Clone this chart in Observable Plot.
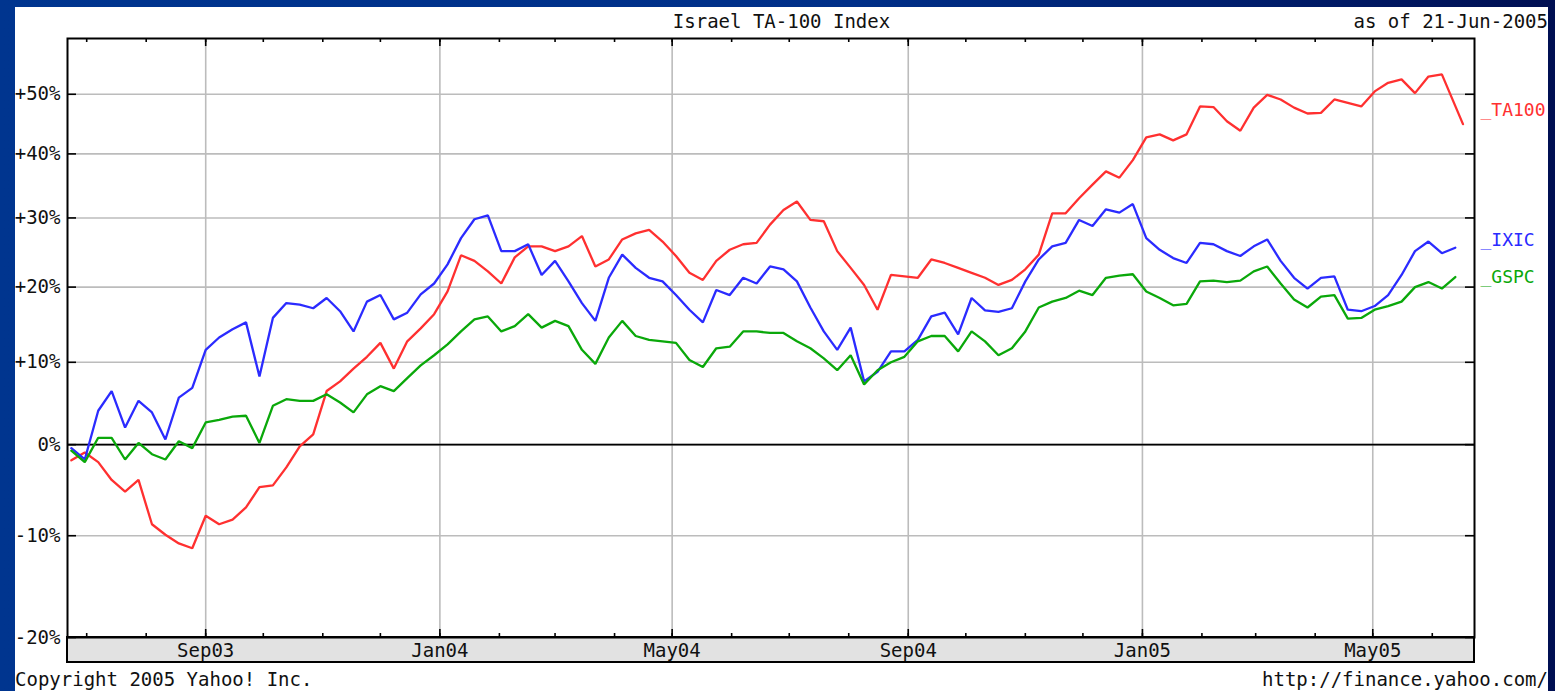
<!DOCTYPE html>
<html>
<head>
<meta charset="utf-8">
<script src="https://cdn.jsdelivr.net/npm/d3@7"></script>
<script src="https://cdn.jsdelivr.net/npm/@observablehq/plot@0.6"></script>
<style>
  html, body { margin: 0; padding: 0; }
  body {
    width: 1555px; height: 691px; overflow: hidden; position: relative;
    background: linear-gradient(90deg, #00358f 0%, #002f88 55%, #001a66 85%, #000f52 100%);
    font-family: "DejaVu Sans Mono", monospace;
  }
  #panel { position: absolute; left: 15px; top: 7px; width: 1533px; height: 684px; background: #fff; }
  #chart { position: absolute; left: 0; top: 0; }
  .txt { position: absolute; font-size: 19px; line-height: 19px; color: #111; white-space: pre; }
</style>
</head>
<body>
<div id="panel">
  <div id="chart"></div>
  <div class="txt" id="title" style="top:5px; left:0; width:1533px; text-align:center;"></div>
  <div class="txt" id="asof" style="top:5px; right:0; text-align:right;"></div>
  <div class="txt" id="copy" style="top:663px; left:0;"></div>
  <div class="txt" id="url" style="top:663px; right:0; text-align:right;"></div>
</div>
<script>
// ---- texts ----
const titleText = "Israel TA-100 Index";
const asOfText = "as of 21-Jun-2005";
const copyrightText = "Copyright 2005 Yahoo! Inc.";
const urlText = "http://finance.yahoo.com/";

// ---- data (weekly, % change since start) ----
const weekStart = "2003-06-23";
const ta100LastDate = "2005-06-17";
const seriesNames = ["TA100", "IXIC", "GSPC"];
const seriesColors = ["#ff3030", "#2b2bff", "#0aa80a"];

const ta100 = [
  -1.8, -0.9, -2.0, -4.0, -5.3, -4.0, -8.8, -9.9, -10.8, -11.3,
  -7.9, -8.8, -8.3, -7.0, -4.8, -4.6, -2.6, -0.2, 1.2, 6.4,
  7.6, 9.2, 10.7, 12.5, 9.2, 12.7, 14.4, 16.3, 19.4, 24.5,
  23.7, 22.2, 20.5, 24.2, 25.8, 25.8, 25.1, 25.8, 27.3, 22.9,
  23.9, 26.8, 27.7, 28.2, 26.5, 24.4, 22.0, 21.0, 23.7, 25.3,
  26.1, 26.3, 29.0, 31.2, 32.5, 29.7, 29.5, 25.1, 22.7, 20.3,
  16.9, 21.7, 21.5, 21.3, 23.9, 23.4, 22.7, 22.0, 21.3, 20.3,
  21.0, 22.5, 24.6, 30.7, 30.7, 33.0, 35.1, 37.2, 36.2, 39.0,
  42.7, 43.2, 42.2, 43.2, 47.9, 47.8, 45.4, 43.8, 47.7, 49.9,
  49.1, 47.7, 46.7, 46.8, 49.1, 48.5, 47.9, 50.5, 52.0, 52.6,
  50.2, 53.1, 53.5, 44.9
];
const ixic = [
  -0.4, -1.7, 4.0, 6.4, 2.0, 5.2, 3.8, 0.6, 5.6, 6.8,
  11.6, 13.2, 14.3, 15.2, 8.2, 15.8, 17.8, 17.6, 17.1, 18.5,
  16.7, 14.0, 18.0, 18.9, 15.6, 16.5, 19.0, 20.5, 23.2, 27.0,
  29.8, 30.4, 25.1, 25.1, 26.1, 21.7, 23.7, 20.8, 17.8, 15.4,
  21.3, 24.6, 22.7, 21.3, 20.8, 18.9, 16.9, 15.2, 19.6, 18.9,
  21.3, 20.5, 22.9, 22.5, 20.8, 17.2, 14.0, 11.6, 14.5, 7.6,
  8.8, 11.4, 11.4, 12.9, 16.0, 16.5, 13.6, 18.5, 16.8, 16.6,
  17.1, 20.8, 23.9, 25.8, 26.3, 29.7, 28.8, 31.3, 30.8, 32.1,
  27.0, 25.3, 24.1, 23.4, 26.3, 26.1, 25.1, 24.4, 25.8, 26.8,
  23.7, 21.3, 19.8, 21.3, 21.5, 16.9, 16.7, 17.4, 18.9, 21.7,
  25.1, 26.5, 24.8, 25.6
];
const gspc = [
  -0.7, -2.0, 0.8, 0.8, -1.7, 0.2, -1.1, -1.7, 0.4, -0.4,
  2.6, 2.9, 3.3, 3.4, 0.2, 4.6, 5.4, 5.2, 5.2, 6.0,
  5.0, 3.8, 6.0, 7.0, 6.4, 8.0, 9.6, 10.9, 12.3, 14.0,
  15.6, 16.0, 14.0, 14.7, 16.3, 14.5, 15.4, 14.7, 11.6, 9.8,
  13.2, 15.4, 13.4, 12.9, 12.7, 12.5, 10.3, 9.4, 11.8, 12.0,
  14.0, 14.0, 13.8, 13.8, 12.7, 11.8, 10.5, 9.0, 10.9, 7.2,
  9.0, 10.0, 10.7, 12.7, 13.4, 13.4, 11.4, 14.0, 12.7, 10.9,
  11.8, 14.0, 17.2, 18.0, 18.5, 19.5, 18.9, 21.3, 21.6, 21.8,
  19.4, 18.5, 17.5, 17.7, 20.8, 20.9, 20.7, 20.9, 22.2, 22.9,
  20.5, 18.3, 17.2, 18.7, 18.9, 15.7, 15.8, 16.9, 17.4, 18.0,
  20.0, 20.7, 19.8, 21.4
];

// ---- axes ----
const yTickValues = [-20, -10, 0, 10, 20, 30, 40, 50];
const xTickDates = ["2003-09-01", "2004-01-01", "2004-05-01", "2004-09-01", "2005-01-01", "2005-05-01"];
const xTickLabels = ["Sep03", "Jan04", "May04", "Sep04", "Jan05", "May05"];
const xDomain = ["2003-06-21", "2005-06-23"];
const yDomainPct = [-20, 60];

// ---- build table ----
const start = new Date(weekStart);
const seriesValues = {TA100: ta100, IXIC: ixic, GSPC: gspc};
const rows = [];
for (const name of seriesNames) {
  const vals = seriesValues[name];
  vals.forEach((v, i) => {
    let date = d3.utcDay.offset(start, 7 * i);
    if (name === "TA100" && i === vals.length - 1) date = new Date(ta100LastDate);
    rows.push({series: name, date, value: 1 + v / 100});
  });
}
const lastRow = name => rows.filter(r => r.series === name).at(-1);

const yTicks = yTickValues.map(p => 1 + p / 100);
const xTicks = xTickDates.map(d => new Date(d));
const xLabelMap = new Map(xTicks.map((d, i) => [+d, xTickLabels[i]]));
const dom = xDomain.map(d => new Date(d));
const months = d3.utcMonth.range(dom[0], dom[1]);

const W = 1533, H = 661;
const mL = 52, mR = 74, mT = 31, mB = 31;
const plotW = W - mL - mR, plotH = H - mT - mB;
const gridColor = "#bcbcbc";

const fmtY = v => {
  const p = Math.round((v - 1) * 100);
  return p > 0 ? `+${p}%` : `${p}%`;
};

const band = (index, scales, values, dims) => {
  const r = d3.create("svg:rect")
    .attr("x", dims.marginLeft)
    .attr("y", dims.height - dims.marginBottom)
    .attr("width", dims.width - dims.marginLeft - dims.marginRight)
    .attr("height", 25)
    .attr("fill", "#e2e2e2")
    .attr("stroke", "#000")
    .attr("stroke-width", 2);
  return r.node();
};

const labelDy = {TA100: -14, IXIC: -7, GSPC: 0};

const chart = Plot.plot({
  width: W, height: H,
  marginLeft: mL, marginRight: mR, marginTop: mT, marginBottom: mB,
  style: {fontFamily: "DejaVu Sans Mono", fontSize: "19px", background: "transparent", color: "#111", overflow: "visible"},
  x: {type: "utc", domain: dom, axis: null},
  y: {type: "log", domain: yDomainPct.map(p => 1 + p / 100), axis: null},
  color: {domain: seriesNames, range: seriesColors},
  marks: [
    Plot.gridY(yTicks, {stroke: gridColor, strokeOpacity: 1, strokeWidth: 1.6}),
    Plot.gridX(xTicks, {stroke: gridColor, strokeOpacity: 1, strokeWidth: 1.6}),
    Plot.ruleY([1], {stroke: "#000", strokeWidth: 1.6}),
    Plot.line(rows, {x: "date", y: "value", z: "series", stroke: "series", strokeWidth: 2.3, strokeLinejoin: "miter"}),
    band,
    Plot.frame({stroke: "#000", strokeWidth: 2}),
    // month ticks (bottom and top)
    Plot.ruleX(months, {stroke: "#000", strokeWidth: 1.6, insetTop: plotH - 4}),
    Plot.ruleX(months, {stroke: "#000", strokeWidth: 1.6, insetBottom: plotH - 4}),
    Plot.ruleX(xTicks, {stroke: "#000", strokeWidth: 1.6, insetTop: plotH - 8}),
    Plot.ruleX(xTicks, {stroke: "#000", strokeWidth: 1.6, insetBottom: plotH - 8}),
    // value ticks (left and right)
    Plot.ruleY(yTicks, {stroke: "#000", strokeWidth: 1.6, insetRight: plotW - 9}),
    Plot.ruleY(yTicks, {stroke: "#000", strokeWidth: 1.6, insetLeft: plotW - 9}),
    Plot.axisY(yTicks, {anchor: "left", tickSize: 0, tickPadding: 7, tickFormat: fmtY, label: null, fill: "#111"}),
    Plot.axisX(xTicks, {anchor: "bottom", tickSize: 0, tickPadding: 6, tickFormat: d => xLabelMap.get(+d), label: null, fill: "#111"}),
    ...seriesNames.map(name => Plot.text([lastRow(name)], {
      y: "value", text: d => "_" + d.series, fill: "series",
      frameAnchor: "right", textAnchor: "start", dx: 6, dy: labelDy[name], fontSize: 18
    }))
  ]
});
document.getElementById("chart").appendChild(chart);
document.getElementById("title").textContent = titleText;
document.getElementById("asof").textContent = asOfText;
document.getElementById("copy").textContent = copyrightText;
document.getElementById("url").textContent = urlText;
</script>
</body>
</html>
